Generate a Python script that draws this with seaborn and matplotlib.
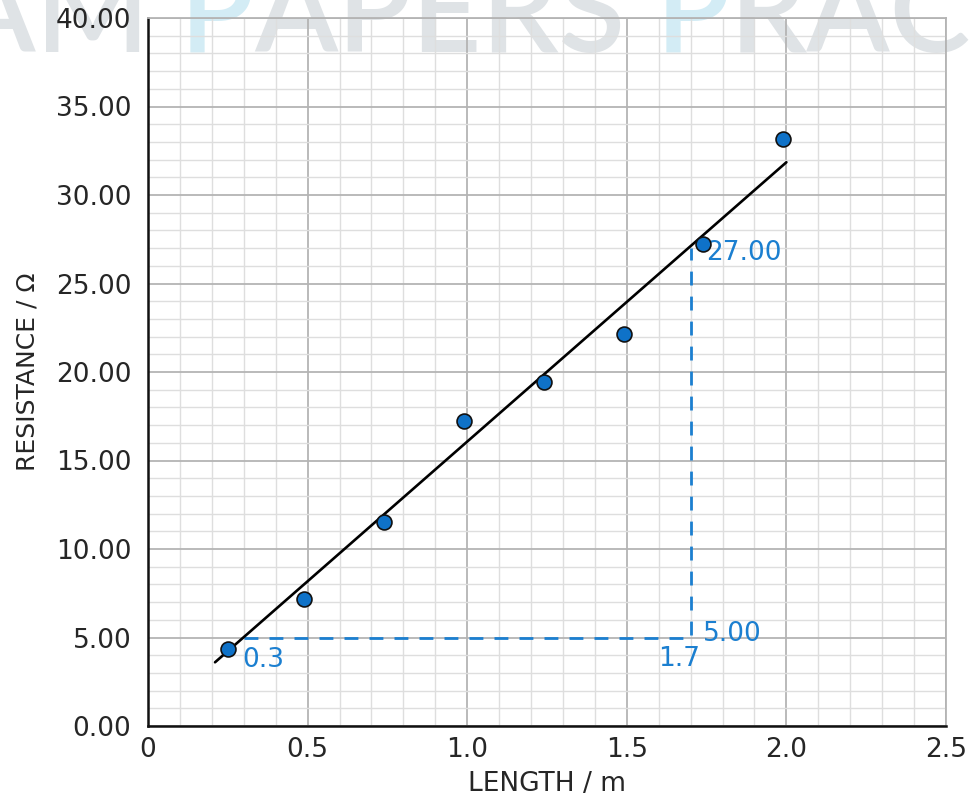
import pandas as pd
import matplotlib
matplotlib.use("Agg")
import matplotlib.pyplot as plt
from matplotlib.ticker import MultipleLocator, FixedLocator
import seaborn as sns

# measured points
length_m = [0.25, 0.49, 0.74, 0.99, 1.24, 1.49, 1.74, 1.99]
resistance_ohm = [4.35, 7.2, 11.55, 17.25, 19.45, 22.15, 27.25, 33.15]

# line of best fit (end points)
fit_x = [0.21, 2.0]
fit_y = [3.6, 31.85]

# gradient triangle
tri_x = [0.3, 1.7, 1.7]
tri_y = [5.0, 5.0, 27.0]

x_ticks = [0, 0.5, 1.0, 1.5, 2.0, 2.5]
x_tick_labels = ["0", "0.5", "1.0", "1.5", "2.0", "2.5"]
y_ticks = [0, 5, 10, 15, 20, 25, 30, 35, 40]
y_tick_labels = ["%.2f" % v for v in y_ticks]

df = pd.DataFrame({"length": length_m, "resistance": resistance_ohm})
fit = pd.DataFrame({"length": fit_x, "resistance": fit_y})

sns.set_theme(style="white")
plt.rcParams['font.family'] = ['DejaVu Sans']

text_col = "#262626"
blue = "#1b7fd0"

fig = plt.figure(figsize=(9.72, 7.98), dpi=100)
ax = fig.add_axes([148 / 972, 72 / 798, 798 / 972, 708 / 798])
ax.patch.set_visible(False)

# --- watermark behind the grid ---
renderer = fig.canvas.get_renderer()
grey_wm = "#dfe3e6"
blue_wm = "#d3ecf5"
wm_font = dict(family="Lato", fontweight="semibold")
pieces = [("EXAM ", grey_wm), ("P", blue_wm), ("APERS ", grey_wm),
          ("P", blue_wm), ("RACTICE", grey_wm)]
probe = fig.text(0, 0, "PAPERS", fontsize=100, **wm_font)
wm_size = 100 * 445 / probe.get_window_extent(renderer).width
probe.remove()
probe = fig.text(0, 0, "EXAM ", fontsize=wm_size, **wm_font)
x0 = 180 - probe.get_window_extent(renderer).width
probe.remove()
for txt, col in pieces:
    t = fig.text(x0 / 972, 1 - 52 / 798, txt, fontsize=wm_size, color=col,
                 zorder=-1, ha="left", va="baseline", **wm_font)
    x0 += t.get_window_extent(renderer).width

# grid
ax.set_xlim(0, 2.5)
ax.set_ylim(0, 40)
ax.xaxis.set_major_locator(FixedLocator(x_ticks))
ax.yaxis.set_major_locator(FixedLocator(y_ticks))
ax.xaxis.set_minor_locator(MultipleLocator(0.1))
ax.yaxis.set_minor_locator(MultipleLocator(1))
ax.grid(which="major", color="#b4b4b4", linewidth=1.3, zorder=0)
ax.grid(which="minor", color="#dedede", linewidth=1.0, zorder=0)
ax.set_axisbelow(True)
ax.set_xticklabels(x_tick_labels)
ax.set_yticklabels(y_tick_labels)
ax.tick_params(which="both", length=0, labelsize=19, colors=text_col)
ax.tick_params(axis="y", pad=12)
ax.tick_params(axis="x", pad=8)

for s in ["left", "bottom"]:
    ax.spines[s].set_color("#111111")
    ax.spines[s].set_linewidth(1.8)
for s in ["top", "right"]:
    ax.spines[s].set_color("#b4b4b4")
    ax.spines[s].set_linewidth(1.3)

# gradient triangle
ax.plot(tri_x, tri_y, color=blue, linewidth=2, dashes=(5, 4), zorder=2)

sns.lineplot(data=fit, x="length", y="resistance", color="black",
             linewidth=1.9, ax=ax, zorder=3)
sns.scatterplot(data=df, x="length", y="resistance", color="#0f72c8",
                edgecolor="#111111", linewidth=1.2, s=115, ax=ax, zorder=4)

ax.text(0.295, 3.75, "0.3", color=blue, fontsize=19, ha="left", va="center")
ax.text(1.75, 26.7, "27.00", color=blue, fontsize=19, ha="left", va="center")
ax.text(1.74, 5.2, "5.00", color=blue, fontsize=19, ha="left", va="center")
ax.text(1.73, 3.8, "1.7", color=blue, fontsize=19, ha="right", va="center")

ax.set_xlabel("LENGTH / m", fontsize=19, color=text_col, labelpad=6)
ax.set_ylabel("RESISTANCE / Ω", fontsize=18, color=text_col, labelpad=12)

fig.savefig("out.png", dpi=100)
